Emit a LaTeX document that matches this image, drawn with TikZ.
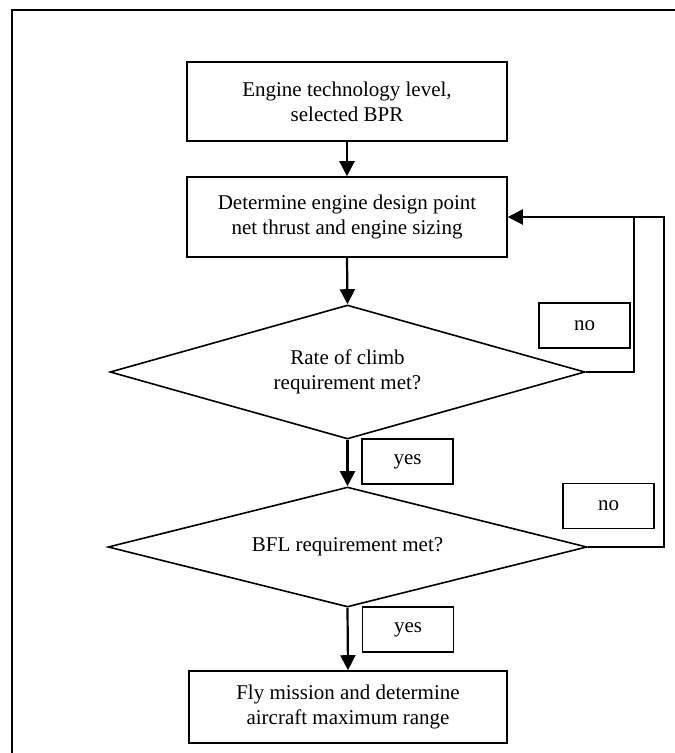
\documentclass[tikz,border=0pt]{standalone}
\usepackage{fontspec}
\setmainfont{Liberation Serif}
\usetikzlibrary{shapes.geometric,arrows.meta}
\begin{document}
\begin{tikzpicture}[x=1pt,y=-1pt,
  every node/.style={font=\fontsize{21}{25}\selectfont, align=center, inner sep=0pt},
  procbox/.style={draw, line width=1.6pt, rectangle},
  decision/.style={draw, line width=1.6pt, diamond, aspect=3.6},
  lbl/.style={draw, line width=1.6pt, rectangle, minimum width=91pt, minimum height=45pt},
  flow/.style={line width=2.2pt, -{Triangle[width=15pt,length=15pt]}},
  loop/.style={line width=2.2pt}
]
\useasboundingbox (0,0) rectangle (675,753);
\draw[line width=2pt] (680,10) -- (12,10) -- (12,760);

\node[procbox, minimum width=320pt, minimum height=79pt] (b1) at (347,101.5)
  {Engine technology level,\\selected BPR};
\node[procbox, minimum width=320pt, minimum height=80pt] (b2) at (347,217)
  {Determine engine design point\\net thrust and engine sizing};
\node[decision, minimum width=475pt, minimum height=134pt] (d1) at (347.5,372)
  {Rate of climb\\requirement met?};
\node[decision, minimum width=479pt, minimum height=120pt] (d2) at (347.5,547)
  {BFL requirement met?};
\node[procbox, minimum width=318pt, minimum height=72pt] (b3) at (348,707)
  {Fly mission and determine\\aircraft maximum range};

\node[lbl] (y1) at (407.5,461.5) {yes};
\node[lbl] (y2) at (408,629.5) {yes};
\node[lbl] (n1) at (584.5,325.5) {no};
\node[lbl] (n2) at (608.5,506) {no};

\coordinate (c1) at (634,217);
\coordinate (c2) at (664,217);

\draw[flow] (b1.south) -- (b2.north);
\draw[flow] (b2.south) -- (d1.north);
\draw[flow] (d1.south) -- (d2.north);
\draw[flow] (d2.south) -- (b3.north);

\draw[loop] (d1.east) -| (c1);
\draw[loop] (d2.east) -| (c2) -- (c1);
\draw[flow] (c1) -- (b2.east);
\end{tikzpicture}
\end{document}
